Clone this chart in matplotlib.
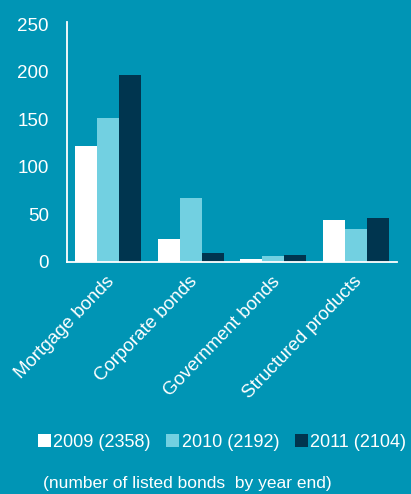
import numpy as np
import matplotlib.pyplot as plt

plt.rcParams['font.family'] = ['Liberation Sans', 'DejaVu Sans']

categories = ['Mortgage bonds', 'Corporate bonds', 'Government bonds', 'Structured products']
years = ['2009 (2358)', '2010 (2192)', '2011 (2104)']
v2009 = [122, 24, 2.5, 44]
v2010 = [151, 67.5, 6, 35]
v2011 = [196, 9.5, 7.5, 46]
yticks = [0, 50, 100, 150, 200, 250]

bg = '#0095b5'
colors = ['#ffffff', '#72d0e1', '#00354f']

fig = plt.figure(figsize=(4.11, 4.94), dpi=100, facecolor=bg)
ax = fig.add_axes([0.163, 0.470, 0.803, 0.485])
ax.set_facecolor(bg)

x = np.arange(len(categories))
w = 0.265
for i, (vals, lab) in enumerate(zip([v2009, v2010, v2011], years)):
    ax.bar(x + (i - 1) * w, vals, w, color=colors[i], label=lab)

ax.set_xlim(-0.5, 3.5)
ax.set_ylim(0, 252)
ax.set_yticks(yticks)
ax.set_xticks(x - 0.03)
ax.set_xticklabels(categories, rotation=46, ha='right', rotation_mode='anchor')
ax.tick_params(axis='both', length=0, colors='white', labelsize=13.5)
ax.tick_params(axis='y', pad=13)
ax.tick_params(axis='x', pad=8)
for s in ['top', 'right']:
    ax.spines[s].set_visible(False)
for s in ['left', 'bottom']:
    ax.spines[s].set_color('white')
    ax.spines[s].set_linewidth(1.3)

leg = fig.legend(loc='center', bbox_to_anchor=(0.54, 0.105), ncol=3, frameon=False,
                 fontsize=13, labelcolor='white', handlelength=0.72, handleheight=0.72,
                 handletextpad=0.15, columnspacing=0.85)

fig.text(0.455, 0.022, '(number of listed bonds  by year end)', color='white',
         fontsize=12.5, ha='center', va='center')

fig.savefig('out.png', dpi=100, facecolor=bg)
